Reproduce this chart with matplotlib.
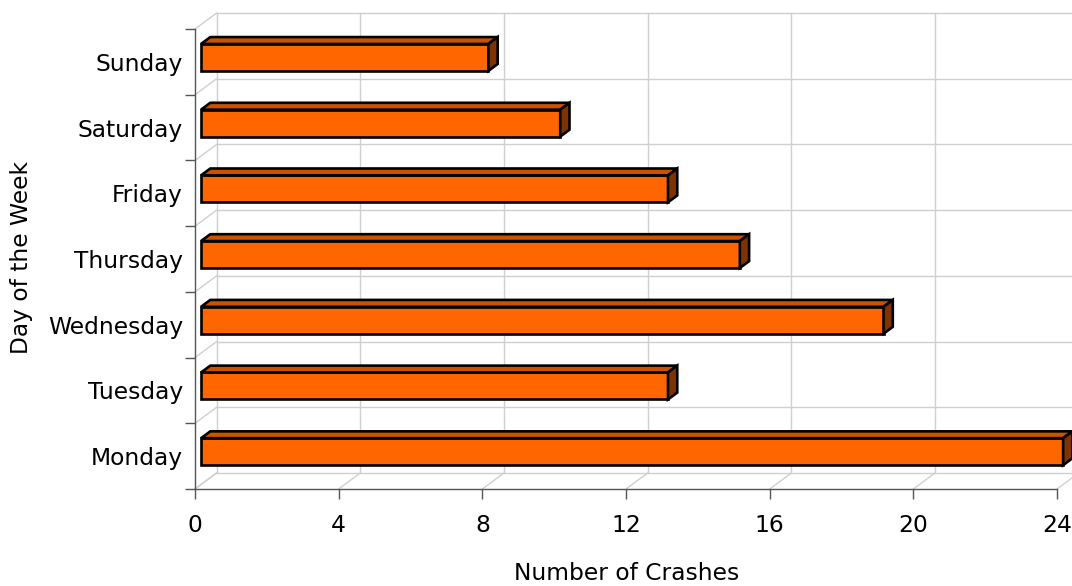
import matplotlib
matplotlib.use("Agg")
import matplotlib.pyplot as plt
from matplotlib.patches import Polygon

days = ["Monday", "Tuesday", "Wednesday", "Thursday", "Friday", "Saturday", "Sunday"]
crashes = [24, 13, 19, 15, 13, 10, 8]
x_ticks = [0, 4, 8, 12, 16, 20, 24]

# pseudo-3D depth vector in data units (x: crashes, y: category slots)
DX, DY = 0.6, 0.243
FRONT, DEPTH = 0.28, 0.43       # bar position within the depth
BAR_H = 0.41

fig = plt.figure(figsize=(10.72, 5.86), dpi=100)
ax = fig.add_axes([0, 0, 1, 1])
ax.set_xlim(-195 / 35.92, (1072 - 195) / 35.92)
ax.set_ylim(-97 / 65.71, (586 - 97) / 65.71)

grid_c = "#cfcfcf"
ncat = len(days)
xmax = x_ticks[-1]

# back wall grid
for v in x_ticks:
    ax.plot([v + DX, v + DX], [DY, ncat + DY], color=grid_c, lw=1, zorder=1)
    ax.plot([v, v + DX], [0, DY], color=grid_c, lw=1, zorder=1)
for k in range(ncat + 1):
    ax.plot([DX, xmax + DX], [k + DY, k + DY], color=grid_c, lw=1, zorder=1)
    ax.plot([0, DX], [k, k + DY], color=grid_c, lw=1, zorder=1)

# bars
fx, fy = FRONT * DX, FRONT * DY
bx, by = DEPTH * DX, DEPTH * DY
edge_lw = 1.9
for k, v in enumerate(crashes):
    yc = k + 0.5 + fy
    y0, y1 = yc - BAR_H / 2, yc + BAR_H / 2
    x0, x1 = fx, fx + v
    front = Polygon([(x0, y0), (x1, y0), (x1, y1), (x0, y1)], closed=True,
                    facecolor="#FF6600", edgecolor="black", lw=edge_lw, zorder=3, joinstyle="miter")
    top = Polygon([(x0, y1), (x1, y1), (x1 + bx, y1 + by), (x0 + bx, y1 + by)], closed=True,
                  facecolor="#CC5200", edgecolor="black", lw=edge_lw, zorder=3, joinstyle="miter")
    side = Polygon([(x1, y0), (x1 + bx, y0 + by), (x1 + bx, y1 + by), (x1, y1)], closed=True,
                   facecolor="#7F3300", edgecolor="black", lw=edge_lw, zorder=3, joinstyle="miter")
    for p in (front, top, side):
        ax.add_patch(p)

# axes lines via spines
for s in ("top", "right"):
    ax.spines[s].set_visible(False)
ax.spines["left"].set_position(("data", 0))
ax.spines["bottom"].set_position(("data", 0))
ax.spines["left"].set_bounds(0, ncat)
ax.spines["bottom"].set_bounds(0, xmax)
for s in ("left", "bottom"):
    ax.spines[s].set_color("#555555")
    ax.spines[s].set_linewidth(1.0)
    ax.spines[s].set_zorder(2)

font = "DejaVu Sans"
fs = 16.8
ax.set_xticks(x_ticks)
ax.set_xticklabels([str(t) for t in x_ticks], fontsize=fs, family=font)
ax.tick_params(axis="x", direction="out", length=7, width=1, color="#555555", pad=11)

ax.set_yticks(range(ncat + 1))
ax.set_yticklabels([""] * (ncat + 1))
ax.set_yticks([k + 0.5 for k in range(ncat)], minor=True)
ax.set_yticklabels(days, minor=True, fontsize=fs, family=font)
ax.tick_params(axis="y", which="major", direction="out", length=7, width=1, color="#555555")
ax.tick_params(axis="y", which="minor", length=0, pad=8.6)

fig.text(22 / 1072, 1 - 258 / 586, "Day of the Week", rotation=90, ha="center", va="center",
         fontsize=fs, family=font)
fig.text(627 / 1072, 1 - 573 / 586, "Number of Crashes", ha="center", va="center",
         fontsize=fs, family=font)

fig.savefig("out.png", dpi=100)
